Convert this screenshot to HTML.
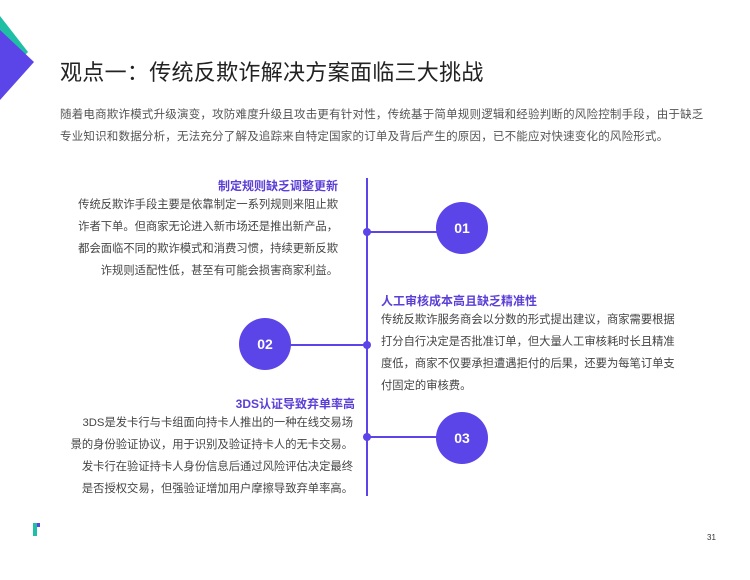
<!DOCTYPE html>
<html><head><meta charset="utf-8"><style>
body{margin:0;width:750px;height:580px;background:#fff;position:relative;overflow:hidden;font-family:"Liberation Sans","Noto Sans CJK SC",sans-serif;}
.a{position:absolute;white-space:nowrap;}
.t{left:60px;top:55px;font-size:22px;color:#222;letter-spacing:0.3px;}
.p{left:60px;font-size:11.5px;color:#555;letter-spacing:0.2px;}
.h{font-size:12px;color:#5b3fd6;font-weight:bold;}
.b{font-size:11.3px;color:#444;line-height:22px;}
.r{text-align:right;}
.c{position:absolute;width:52px;height:52px;border-radius:50%;background:#5b44e8;color:#fff;font-weight:bold;font-size:14px;text-align:center;line-height:52px;}
.d{position:absolute;width:8px;height:8px;border-radius:50%;background:#5b44e8;}
.l{position:absolute;height:2px;background:#5b44e8;}
</style></head><body>
<svg class="a" style="left:0;top:0" width="40" height="110">
<polygon points="0,16 28,52 0,80" fill="#1fbfa6"/>
<polygon points="0,30 34,62 0,100" fill="#5b44e8"/>
</svg>
<div class="a t">观点一：传统反欺诈解决方案面临三大挑战</div>
<div class="a p" style="top:106px">随着电商欺诈模式升级演变，攻防难度升级且攻击更有针对性，传统基于简单规则逻辑和经验判断的风险控制手段，由于缺乏</div>
<div class="a p" style="top:128px">专业知识和数据分析，无法充分了解及追踪来自特定国家的订单及背后产生的原因，已不能应对快速变化的风险形式。</div>

<div class="a" style="left:366px;top:178px;width:2px;height:318px;background:#5b44e8"></div>
<div class="d" style="left:363px;top:228px"></div>
<div class="l" style="left:367px;top:231px;width:72px"></div>
<div class="c" style="left:436px;top:202px">01</div>
<div class="d" style="left:363px;top:341px"></div>
<div class="l" style="left:290px;top:344px;width:76px"></div>
<div class="c" style="left:239px;top:318px">02</div>
<div class="d" style="left:363px;top:433px"></div>
<div class="l" style="left:367px;top:436px;width:72px"></div>
<div class="c" style="left:436px;top:412px">03</div>

<div class="a h r" style="right:412px;top:177px">制定规则缺乏调整更新</div>
<div class="a b r" style="right:412px;top:194px">传统反欺诈手段主要是依靠制定一系列规则来阻止欺<br>诈者下单。但商家无论进入新市场还是推出新产品，<br>都会面临不同的欺诈模式和消费习惯，持续更新反欺<br>诈规则适配性低，甚至有可能会损害商家利益。</div>

<div class="a h" style="left:381px;top:292px">人工审核成本高且缺乏精准性</div>
<div class="a b" style="left:381px;top:309px">传统反欺诈服务商会以分数的形式提出建议，商家需要根据<br>打分自行决定是否批准订单，但大量人工审核耗时长且精准<br>度低，商家不仅要承担遭遇拒付的后果，还要为每笔订单支<br>付固定的审核费。</div>

<div class="a h r" style="right:395px;top:395px">3DS认证导致弃单率高</div>
<div class="a b r" style="right:397px;top:412px">3DS是发卡行与卡组面向持卡人推出的一种在线交易场<br>景的身份验证协议，用于识别及验证持卡人的无卡交易。<br>发卡行在验证持卡人身份信息后通过风险评估决定最终<br>是否授权交易，但强验证增加用户摩擦导致弃单率高。</div>

<div class="a" style="left:33px;top:523px;width:4px;height:13px;background:#1fbfa6"></div>
<div class="a" style="left:37px;top:523px;width:3px;height:4px;background:#5b44e8"></div>
<div class="a" style="left:707px;top:533px;font-size:8px;color:#333">31</div>
</body></html>
